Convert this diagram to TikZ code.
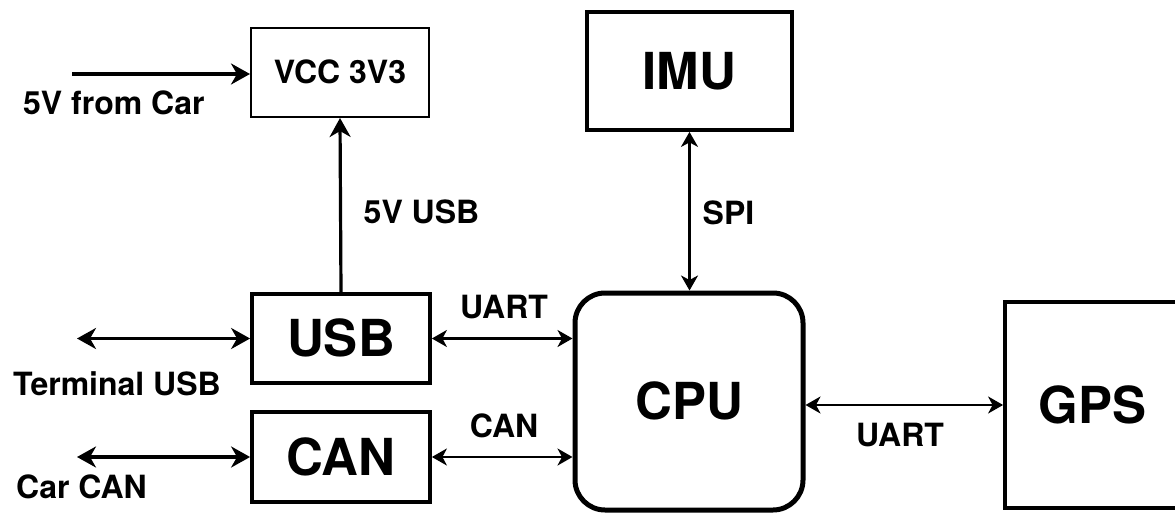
\documentclass[tikz,border=0pt]{standalone}
\usepackage{fontspec}
\setmainfont{TeX Gyre Heros}
\usetikzlibrary{arrows.meta,calc}
\begin{document}
\begin{tikzpicture}[x=1pt,y=-1pt,
  box/.style={draw, rectangle, inner sep=0pt, line width=3.8pt,
    font=\fontsize{51}{51}\selectfont\bfseries, text height=36.5pt, text depth=0pt},
  lbl/.style={inner sep=0pt, font=\fontsize{32}{32}\selectfont\bfseries,
    text height=22.9pt, text depth=0pt},
  bigtip/.tip={Stealth[length=19pt,width=21pt,inset=6pt]},
  smalltip/.tip={Stealth[length=15pt,width=17pt,inset=4.5pt]},
  fwd/.style={line width=3.2pt, -bigtip},
  bithick/.style={line width=3.2pt, bigtip-bigtip},
  bithin/.style={line width=2.2pt, smalltip-smalltip}
]
\useasboundingbox (0,0) rectangle (1175,513);
\clip (0,0) rectangle (1175,513);
\fill[white] (0,0) rectangle (1175,513);

\node[box, line width=2pt, font=\fontsize{32}{32}\selectfont\bfseries, text height=22.9pt,
  minimum width=178pt, minimum height=89pt] (vcc) at (340,72.5) {VCC 3V3};
\node[box, minimum width=205pt, minimum height=118pt] (imu) at (689.5,71) {IMU};
\node[box, minimum width=178pt, minimum height=89pt] (usb) at (341,338.5) {USB};
\node[box, minimum width=178pt, minimum height=90pt] (can) at (341,457) {CAN};
\node[box, rounded corners=30pt, line width=5pt, minimum width=228pt, minimum height=217pt] (cpu) at (689,401.5) {CPU};
\node[box, minimum width=175pt, minimum height=206pt] (gps) at (1092.5,405) {GPS};

\coordinate (car5v) at (72,74);
\coordinate (term) at (77,338.5);
\coordinate (carcan) at (77,457);

\draw[fwd] (car5v) -- (car5v -| vcc.west);
\draw[fwd] (usb.north) -- (vcc.south);
\draw[bithick] (term) -- (usb.west);
\draw[bithick] (carcan) -- (can.west);
\draw[bithin] (usb.east) -- (usb.east -| cpu.west);
\draw[bithin] (can.east) -- (can.east -| cpu.west);
\draw[bithin] (imu.south) -- (imu.south |- cpu.north);
\draw[bithin] (gps.west -| cpu.east) -- (gps.west);

\node[lbl, anchor=west] (l5vcar) at (23,103) {5V from Car};
\node[lbl] (l5vusb) at (421.5,212) {5V USB};
\node[lbl, anchor=west] (lterm) at (13,384) {Terminal USB};
\node[lbl, anchor=west] (lcarcan) at (16,487) {Car CAN};
\node[lbl] (luart1) at (504,307.5) {UART};
\node[lbl] (lcan) at (504,426) {CAN};
\node[lbl] (lspi) at (728.5,213.5) {SPI};
\node[lbl] (luart2) at (900,435) {UART};
\end{tikzpicture}
\end{document}
